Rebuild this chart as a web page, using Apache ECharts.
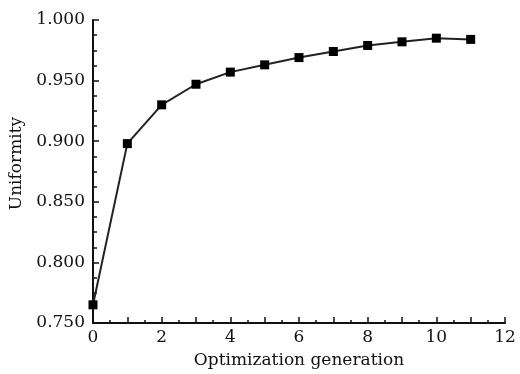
<!DOCTYPE html>
<html><head><meta charset="utf-8">
<script src="https://cdn.jsdelivr.net/npm/echarts@6/dist/echarts.min.js"></script>
<style>html,body{margin:0;padding:0;background:#fff}#c{width:520px;height:374px}</style>
</head><body><div id="c"></div>
<script>
const generations = [0,1,2,3,4,5,6,7,8,9,10,11];
const uniformity = [0.765,0.898,0.930,0.947,0.957,0.963,0.969,0.974,0.979,0.982,0.985,0.984];
const xTickLabels = ['0','2','4','6','8','10','12'];
const yTickLabels = ['0.750','0.800','0.850','0.900','0.950','1.000'];
const font = 'DejaVu Serif';
const chart = echarts.init(document.getElementById('c'));
chart.setOption({
  animation:false,
  backgroundColor:'#fff',
  grid:{left:93,right:15,top:20,bottom:51,containLabel:false},
  xAxis:{type:'value',min:0,max:12,interval:1,
    name:'Optimization generation',nameLocation:'middle',nameGap:29,
    nameTextStyle:{fontFamily:font,fontSize:17,color:'#111'},
    axisLine:{lineStyle:{color:'#111',width:2}},
    axisTick:{inside:true,length:6,lineStyle:{color:'#111',width:1.5}},
    minorTick:{show:true,splitNumber:2,length:3,lineStyle:{color:'#111',width:1.5}},
    splitLine:{show:false},
    axisLabel:{margin:6,fontFamily:font,fontSize:17,color:'#111',
      formatter:v=>{const s=String(v);return xTickLabels.includes(s)?s:'';}}
  },
  yAxis:{type:'value',min:0.75,max:1.0,interval:0.05,
    name:'Uniformity',nameLocation:'middle',nameGap:67,
    nameTextStyle:{fontFamily:font,fontSize:17,color:'#111',padding:[0,0,0,16]},
    axisLine:{show:true,lineStyle:{color:'#111',width:2}},
    axisTick:{show:true,inside:true,length:6,lineStyle:{color:'#111',width:1.5}},
    minorTick:{show:true,splitNumber:4,length:4,lineStyle:{color:'#111',width:1.5}},
    splitLine:{show:false},
    axisLabel:{margin:8,fontFamily:font,fontSize:17,color:'#111',
      formatter:v=>{const i=Math.round((v-0.75)/0.05);return yTickLabels[i]||'';}}
  },
  series:[{type:'line',data:generations.map((g,i)=>[g,uniformity[i]]),
    symbol:'rect',symbolSize:9,showSymbol:true,
    lineStyle:{color:'#222',width:2},itemStyle:{color:'#000'}}]
});
</script></body></html>
